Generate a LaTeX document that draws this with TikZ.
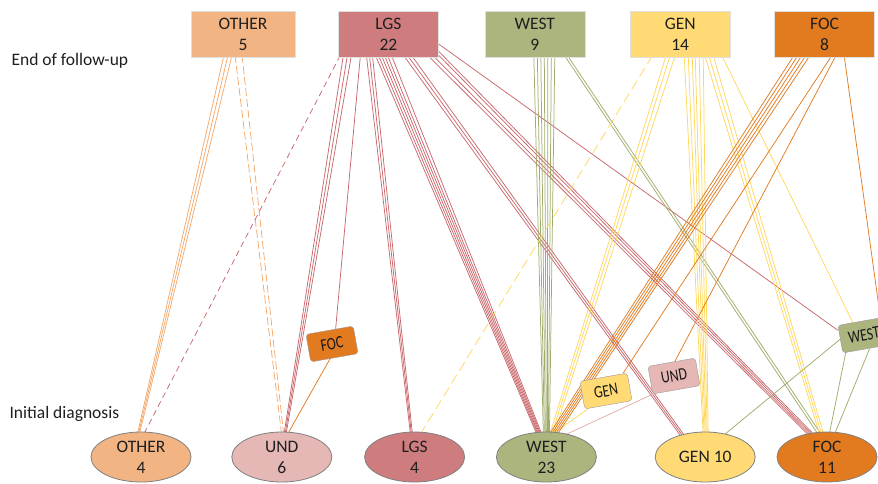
\documentclass[tikz,border=0pt]{standalone}
\usepackage{fontspec}
\setmainfont{Carlito}
\newfontfamily\tagfont[FakeStretch=0.78]{Carlito}
\usepackage{tikz}
\usetikzlibrary{positioning,shapes.geometric,backgrounds}
\definecolor{othfill}{HTML}{F2B482}
\definecolor{lgsfill}{HTML}{CE7C7E}
\definecolor{westfill}{HTML}{ADB57F}
\definecolor{genfill}{HTML}{FFDA75}
\definecolor{focfill}{HTML}{E27B20}
\definecolor{undfill}{HTML}{E5B8B5}
\definecolor{othline}{HTML}{F4A86A}
\definecolor{lgsline}{HTML}{C9686C}
\definecolor{westline}{HTML}{A0AC6C}
\definecolor{genline}{HTML}{FFD75E}
\definecolor{focline}{HTML}{E27B20}
\definecolor{undline}{HTML}{E2ACA9}

\begin{document}
\begin{tikzpicture}[x=1pt, y=-1pt,
  topbox/.style={draw=black!12, fill=#1, minimum width=100pt, minimum height=46pt,
    inner sep=0pt, align=center, text=black!88, font=\fontsize{17.5}{21}\selectfont},
  endbox/.style={ellipse, draw=black!50, line width=0.8pt, fill=#1, minimum width=100pt,
    minimum height=50pt, inner sep=0pt, align=center, text=black!88, font=\fontsize{17.5}{21}\selectfont},
  tag/.style={draw=black!40, fill=#1, rounded corners=3pt, rotate=10, minimum width=48pt,
    minimum height=28pt, inner sep=0pt, text=black!90, font=\tagfont\fontsize{17.5}{19}\selectfont},
  side/.style={anchor=west, text=black!88, font=\fontsize{17.5}{21}\selectfont},
  flow/.style={draw=#1, line width=0.75pt},
  dflow/.style={draw=#1, line width=0.75pt, dash pattern=on 7pt off 4pt}
]
  \useasboundingbox (0,0) rectangle (878,484);

  \node[topbox=othfill, minimum width=104pt] (othT) at (243,34) {OTHER\\5};
  \node[topbox=lgsfill, right=43pt of othT] (lgsT) {LGS\\22};
  \node[topbox=westfill, right=46pt of lgsT] (westT) {WEST\\9};
  \node[topbox=genfill, right=45pt of westT] (genT) {GEN\\14};
  \node[topbox=focfill, right=44pt of genT] (focT) {FOC\\8};

  \node[endbox=othfill] (othB) at (141,457) {OTHER\\4};
  \node[endbox=undfill, right=40pt of othB] (undB) {UND\\6};
  \node[endbox=lgsfill, right=32pt of undB] (lgsB) {LGS\\4};
  \node[endbox=westfill, right=31pt of lgsB] (westB) {WEST\\23};
  \node[endbox=genfill, right=58pt of westB] (genB) {GEN 10};
  \node[endbox=focfill, right=21pt of genB] (focB) {FOC\\11};

  \node[side] (endLbl) at (8,61) {End of follow-up};
  \node[side] (initLbl) at (6,414) {Initial diagnosis};

  \node[tag=focfill] (focTag) at (332,344) {FOC};
  \node[tag=genfill] (genTag) at (606,391) {GEN};
  \node[tag=undfill] (undTag) at (674,376) {UND};
  \node[tag=westfill] (westTag) at (864,335) {WEST};

  \begin{scope}[on background layer]
    \foreach \a/\b in {-19/-4,-15/-3,-11/-2}
      \draw[flow=othline] ([xshift=\a,yshift=2]othT.south) -- ([xshift=\b,yshift=-4]othB.north);
    \foreach \a/\b in {-8/0,-1/2}
      \draw[dflow=othline, dash pattern=on 8pt off 3pt] ([xshift=\a,yshift=2]othT.south) -- ([xshift=\b,yshift=-4]undB.north);

    \draw[dflow=lgsline, dash pattern=on 6pt off 4pt] ([xshift=-48,yshift=2]lgsT.south) -- ([xshift=2,yshift=-4]othB.north);
    \foreach \a/\b in {-45/2,-41/3,-37/4}
      \draw[flow=lgsline] ([xshift=\a,yshift=2]lgsT.south) -- ([xshift=\b,yshift=-4]undB.north);
    \draw[flow=lgsline] ([xshift=-28,yshift=2]lgsT.south) -- ([xshift=6]focTag.north);
    \draw[flow=focline] ([xshift=-4]focTag.south) -- ([xshift=5,yshift=-4]undB.north);
    \foreach \a/\b in {-22/-4,-19/-3,-16/-2}
      \draw[flow=lgsline] ([xshift=\a,yshift=2]lgsT.south) -- ([xshift=\b,yshift=-4]lgsB.north);
    \foreach \a/\b in {-13/-9,-10/-8,-7/-7,-4/-6,-1/-5,3/-4}
      \draw[flow=lgsline] ([xshift=\a,yshift=2]lgsT.south) -- ([xshift=\b,yshift=-4]westB.north);
    \foreach \a/\b in {15/-24,19/-22,23/-20}
      \draw[flow=lgsline] ([xshift=\a,yshift=2]lgsT.south) -- ([xshift=\b,yshift=-5]genB.north);
    \foreach \a/\b/\c in {-9/0/-18,-4/0/-16,-1/3/-14,-1/7/-12}
      \draw[flow=lgsline] ([xshift=\a,yshift=\b]lgsT.south east) -- ([xshift=\c,yshift=-4]focB.north);
    \draw[flow=lgsline] ([yshift=-10]lgsT.east) -- ([yshift=-5]westTag.north west);

    \foreach \a/\b in {-1/-3,2.5/-2,6/-1,9.5/0,13/1,16.5/2,20/3}
      \draw[flow=westline] ([xshift=\a,yshift=2]westT.south) -- ([xshift=\b,yshift=-4]westB.north);
    \foreach \a/\b in {29.5/-8,32.5/-5}
      \draw[flow=westline] ([xshift=\a,yshift=2]westT.south) -- ([xshift=\b,yshift=-4]focB.north);

    \draw[dflow=genline, dash pattern=on 10pt off 5pt] ([xshift=-27.5,yshift=2]genT.south) -- ([xshift=5,yshift=-4]lgsB.north);
    \foreach \a/\b in {-14/3,-10/5,-5/7}
      \draw[flow=genline] ([xshift=\a,yshift=2]genT.south) -- ([xshift=\b,yshift=-4]westB.north);
    \foreach \a/\b in {4/-2,8/-1,12/0,15/1,19/2,23/3}
      \draw[flow=genline] ([xshift=\a,yshift=2]genT.south) -- ([xshift=\b,yshift=-4]genB.north);
    \foreach \a/\b in {24.5/-7,28.5/-5,33/-3}
      \draw[flow=genline] ([xshift=\a,yshift=2]genT.south) -- ([xshift=\b,yshift=-4]focB.north);
    \draw[flow=genline] ([xshift=41.5,yshift=2]genT.south) -- ([xshift=-8,yshift=-3]westTag.north);
    \draw[flow=genline] ([xshift=3]genTag.south west) -- ([xshift=4,yshift=-4]westB.north);

    \foreach \a/\b in {-30.5/2,-26.5/4,-22.5/6,-18.5/8,-14.5/10}
      \draw[flow=focline] ([xshift=\a,yshift=2]focT.south) -- ([xshift=\b,yshift=-4]westB.north);
    \draw[flow=focline] ([xshift=7.5,yshift=2]focT.south) -- ([xshift=-4]genTag.north east);
    \draw[flow=focline] ([xshift=11.5,yshift=2]focT.south) -- ([xshift=3]undTag.north);
    \draw[flow=focline] ([xshift=19.5,yshift=2]focT.south) -- ([xshift=20,yshift=-5]westTag.north);

    \draw[flow=undline] (undTag.south west) -- ([xshift=15,yshift=-5]westB.north);
    \draw[flow=westline] (westTag.west) -- ([xshift=18,yshift=-4]genB.north);
    \draw[flow=westline] ([xshift=-20]westTag.south) -- ([xshift=2,yshift=-4]focB.north);
    \draw[flow=westline] ([xshift=3]westTag.south) -- ([xshift=7,yshift=-4]focB.north);
  \end{scope}
\end{tikzpicture}
\end{document}
